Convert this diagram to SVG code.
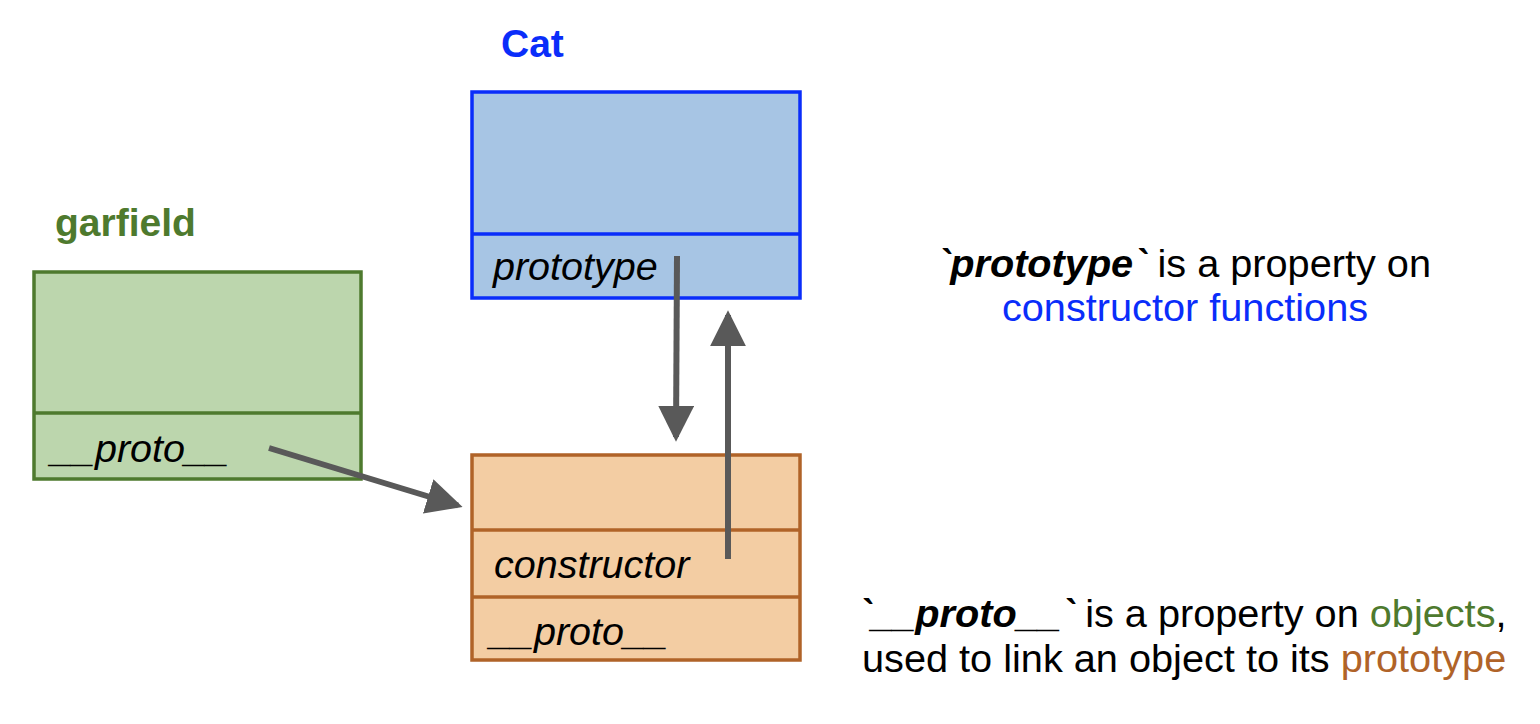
<svg xmlns="http://www.w3.org/2000/svg" width="1540" height="724" viewBox="0 0 1540 724">
<defs>
<style>
text{font-family:"Liberation Sans",Arial,sans-serif;}
.title{font-size:39px;font-weight:bold;}
.field{font-size:39.5px;font-style:italic;}
.note{font-size:39.7px;}
.conn{stroke:#595959;stroke-width:6;fill:none;}
</style>
<marker id="ah" markerWidth="6" markerHeight="6" refX="5.2" refY="3" orient="auto" markerUnits="strokeWidth">
<path d="M0,0 L6,3 L0,6 z" fill="#595959"/>
</marker>
</defs>
<rect width="1540" height="724" fill="#fff"/>
<g id="cat">
<text class="title" x="501" y="57" fill="#0a2dfa">Cat</text>
<rect x="472" y="92" width="328" height="206" fill="#a7c5e4" stroke="#0a2dfa" stroke-width="3.5"/>
<line x1="472" y1="234" x2="800" y2="234" stroke="#0a2dfa" stroke-width="3.5"/>
<text class="field" x="493" y="280" fill="#000">prototype</text>
</g>
<g id="garfield">
<text class="title" x="55" y="236" fill="#4e7a2e">garfield</text>
<rect x="34" y="272" width="327" height="207" fill="#bcd6ad" stroke="#4e7a2e" stroke-width="3.5"/>
<line x1="34" y1="413" x2="361" y2="413" stroke="#4e7a2e" stroke-width="3.5"/>
<text class="field" x="51" y="462" fill="#000">__proto__</text>
</g>
<g id="catPrototype">
<rect x="472" y="455" width="328" height="205" fill="#f3cda3" stroke="#b06328" stroke-width="3.5"/>
<line x1="472" y1="530" x2="800" y2="530" stroke="#b06328" stroke-width="3.5"/>
<line x1="472" y1="597" x2="800" y2="597" stroke="#b06328" stroke-width="3.5"/>
<text class="field" x="494" y="578" fill="#000">constructor</text>
<text class="field" x="490" y="645" fill="#000">__proto__</text>
</g>
<g id="connectors">
<line class="conn" x1="677" y1="256" x2="676" y2="437" marker-end="url(#ah)"/>
<line class="conn" x1="728" y1="559" x2="728" y2="315" marker-end="url(#ah)"/>
<line class="conn" x1="269" y1="448" x2="458" y2="505.5" marker-end="url(#ah)"/>
</g>
<g id="notes">
<text class="note" x="1184" y="277" text-anchor="middle" fill="#000"><tspan font-weight="bold" font-style="italic">`prototype`</tspan> is a property on</text>
<text class="note" x="1185" y="321" text-anchor="middle" fill="#0a2dfa">constructor functions</text>
<text class="note" x="858" y="627" fill="#000"><tspan font-weight="bold" font-style="italic">`__proto__`</tspan> is a property on <tspan fill="#4e7a2e">objects</tspan>,</text>
<text class="note" x="862" y="672" fill="#000">used to link an object to its <tspan fill="#b06328">prototype</tspan></text>
</g>
</svg>
